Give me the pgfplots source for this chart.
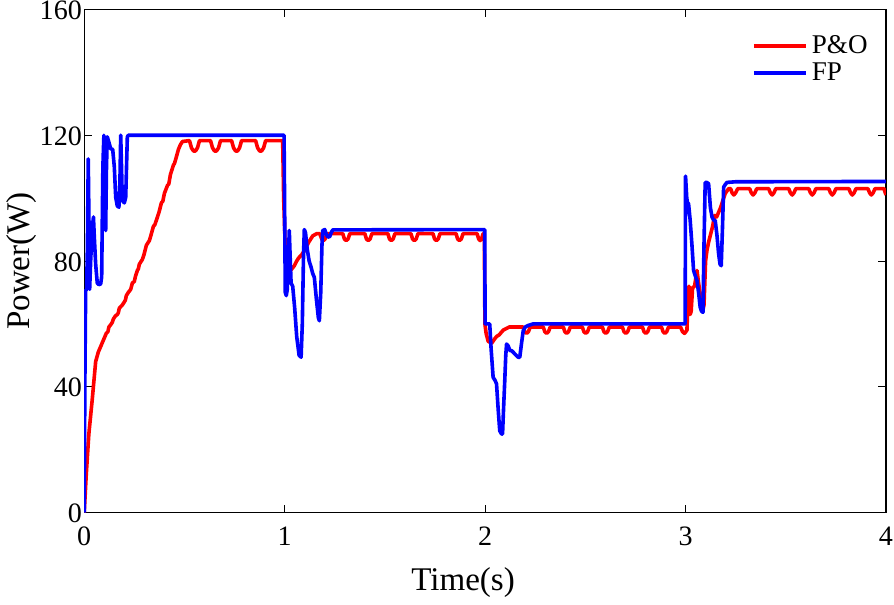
\documentclass[border=0pt]{standalone}
\usepackage{fontspec}
\setmainfont{Liberation Serif}
\usepackage{pgfplots}
\pgfplotsset{compat=1.18}

\begin{document}
\begin{tikzpicture}
\begin{axis}[
  scale only axis,
  width=400pt, height=251pt,
  xmin=0, xmax=4, ymin=0, ymax=160,
  xtick={0,1,2,3,4}, ytick={0,40,80,120,160},
  xticklabels={0,1,2,3,4}, yticklabels={0,40,80,120,160},
  tick align=inside, major tick length=4pt,
  tick style={black, line width=0.5pt},
  axis line style={line width=0.6pt},
  ticklabel style={font=\rmfamily\fontsize{14}{16}\selectfont, inner sep=0.5pt},
  xticklabel style={yshift=-6.5pt},
  yticklabel style={yshift=-0.5pt, xshift=-0.5pt},
  xlabel={Time(s)}, ylabel={Power(W)},
  label style={font=\fontsize{16.5}{19}\selectfont},
  xlabel style={yshift=-7pt, xshift=-11pt},
  ylabel style={yshift=-2.5pt},
  legend style={draw=none, fill=none, at={(0.99,0.965)}, anchor=north east,
    font=\fontsize{13.5}{15}\selectfont, row sep=-1pt},
  legend cell align=left,
  legend image code/.code={\draw[#1] (0pt,0pt) -- (26pt,0pt);},
  clip=true,
]
% P&O
\addplot[red, line width=1.8pt, line join=round] coordinates {
(0,0) (0.01,12) (0.023,25) (0.04,36) (0.057,48) (0.07,51) (0.09,54)
(0.1,55.5) (0.11,57) (0.118,57.5) (0.123,59) (0.135,60) (0.14,60.5) (0.145,61.5) (0.155,62.5)
(0.165,63) (0.17,63.5) (0.175,65) (0.19,66) (0.2,67) (0.205,67.5) (0.21,69) (0.22,70) (0.232,71)
(0.24,73) (0.25,73.5) (0.255,75) (0.265,77) (0.27,77.5) (0.275,79) (0.285,80) (0.29,80.5) (0.298,82)
(0.31,85) (0.32,86) (0.325,86.5) (0.332,88) (0.345,91) (0.352,91.5) (0.36,93) (0.373,95.5)
(0.385,98.5) (0.392,99) (0.4,101.5) (0.415,104) (0.422,104.5) (0.43,107.5) (0.445,110.5)
(0.45,111) (0.457,112.5) (0.47,115.5) (0.48,117) (0.49,118) (0.525,118.3)
(0.535,116) (0.545,115) (0.555,115) (0.565,116) (0.575,118.3)
(0.63,118.3) (0.64,116) (0.65,115) (0.66,115) (0.67,116) (0.68,118.3)
(0.735,118.3) (0.745,116) (0.755,115) (0.765,115) (0.775,116) (0.785,118.3)
(0.855,118.3) (0.865,116) (0.875,115) (0.885,115) (0.895,116) (0.905,118.3)
(0.99,118.3) (0.995,100) (1.005,80) (1.015,76) (1.03,77) (1.048,78.5)
(1.06,80) (1.07,81) (1.085,82) (1.1,83.5) (1.12,86) (1.14,88) (1.16,88.7)
(1.175,88.7) (1.185,87) (1.193,86.5) (1.202,87) (1.21,88.7)
(1.29,88.7) (1.298,87) (1.307,86.5) (1.316,87) (1.325,88.7)
(1.4,88.7) (1.408,87) (1.417,86.5) (1.426,87) (1.435,88.7)
(1.515,88.7) (1.523,87) (1.532,86.5) (1.541,87) (1.55,88.7)
(1.63,88.7) (1.638,87) (1.647,86.5) (1.656,87) (1.665,88.7)
(1.74,88.7) (1.748,87) (1.757,86.5) (1.766,87) (1.775,88.7)
(1.855,88.7) (1.863,87) (1.872,86.5) (1.881,87) (1.89,88.7)
(1.96,88.7) (1.968,87) (1.975,86.5) (1.982,87) (1.99,88.7) (1.996,88.7)
(1.999,60) (2.005,57) (2.015,54.5) (2.032,53.8) (2.045,55) (2.057,56)
(2.07,56.5) (2.09,58) (2.105,58.5) (2.12,59) (2.19,59)
(2.198,57.5) (2.207,57) (2.216,57.5) (2.225,59)
(2.29,59) (2.298,57.5) (2.307,57) (2.316,57.5) (2.325,59)
(2.39,59) (2.398,57.5) (2.407,57) (2.416,57.5) (2.425,59)
(2.485,59) (2.493,57.5) (2.502,57) (2.511,57.5) (2.52,59)
(2.585,59) (2.593,57.5) (2.602,57) (2.611,57.5) (2.62,59)
(2.685,59) (2.693,57.5) (2.702,57) (2.711,57.5) (2.72,59)
(2.785,59) (2.793,57.5) (2.802,57) (2.811,57.5) (2.82,59)
(2.88,59) (2.888,57.5) (2.897,57) (2.906,57.5) (2.915,59)
(2.975,59) (2.985,57.5) (2.995,57) (3.007,58)
(3.012,68) (3.017,72) (3.023,63) (3.028,64) (3.035,71.5) (3.045,72)
(3.057,77) (3.065,73) (3.073,69.5) (3.085,64) (3.092,66) (3.1,80)
(3.107,83.5) (3.115,86) (3.123,88) (3.135,91) (3.145,94.5) (3.155,94)
(3.165,95.5) (3.175,97) (3.185,99) (3.198,101.5) (3.215,103)
(3.225,103) (3.232,101.7) (3.241,101) (3.25,101.7) (3.26,103)
(3.32,103) (3.328,101.7) (3.337,101) (3.346,101.7) (3.355,103)
(3.415,103) (3.423,101.7) (3.432,101) (3.441,101.7) (3.45,103)
(3.515,103) (3.523,101.7) (3.532,101) (3.541,101.7) (3.55,103)
(3.615,103) (3.623,101.7) (3.632,101) (3.641,101.7) (3.65,103)
(3.715,103) (3.723,101.7) (3.732,101) (3.741,101.7) (3.75,103)
(3.815,103) (3.823,101.7) (3.832,101) (3.841,101.7) (3.85,103)
(3.91,103) (3.918,101.7) (3.927,101) (3.936,101.7) (3.945,103)
(3.99,103) (4.0,101)
};
\addlegendentry{P\&O}
% FP
\addplot[blue, line width=1.8pt, line join=round] coordinates {
(0,0) (0.003,40) (0.007,70.6) (0.012,71) (0.016,85) (0.02,112.5)
(0.024,90) (0.027,71) (0.032,80) (0.04,90.5) (0.046,94) (0.05,88)
(0.057,79) (0.065,73) (0.073,72.5) (0.082,72.7) (0.087,75) (0.093,110)
(0.098,120) (0.102,100) (0.107,89.7) (0.111,110) (0.115,119.5)
(0.122,118) (0.132,115.7) (0.142,115.5) (0.15,110) (0.157,100.3)
(0.165,97.5) (0.173,97.1) (0.178,105) (0.182,120) (0.186,110)
(0.19,99.2) (0.2,98.5) (0.207,100.3) (0.211,110) (0.215,119.5)
(0.22,120) (0.997,120) (1.0,95) (1.003,70) (1.008,69) (1.013,71)
(1.018,80) (1.023,89.7) (1.028,80) (1.032,73) (1.04,72) (1.05,65)
(1.06,56) (1.072,50) (1.082,49.4) (1.088,60) (1.094,82) (1.098,90)
(1.104,89) (1.112,84) (1.122,80) (1.132,78) (1.14,76) (1.148,74.8)
(1.158,68) (1.168,62) (1.173,61) (1.18,70) (1.186,85) (1.19,89.7)
(1.2,90) (1.208,88.5) (1.215,87.6) (1.225,87.8) (1.232,89) (1.24,89.9)
(1.998,90) (2.0,60) (2.023,60) (2.03,52) (2.04,43) (2.05,42)
(2.057,40.9) (2.065,33) (2.073,26) (2.082,25) (2.087,25) (2.092,33)
(2.098,41.9) (2.103,50) (2.107,53.6) (2.115,53) (2.124,51.5)
(2.132,51.5) (2.14,51) (2.155,50) (2.165,49.4) (2.173,49.4) (2.18,53)
(2.19,57.8) (2.2,59) (2.215,59.5) (2.24,60) (2.998,60) (3.0,107)
(3.006,100) (3.01,98.5) (3.015,98.2) (3.023,93) (3.032,85) (3.04,77)
(3.05,75) (3.057,73.8) (3.065,70) (3.073,65.3) (3.08,64) (3.087,63.7)
(3.092,85) (3.098,105) (3.105,105) (3.115,104.6) (3.124,97) (3.132,94)
(3.14,93) (3.148,92.9) (3.157,88) (3.165,82.3) (3.172,79) (3.178,78.5)
(3.184,90) (3.19,103.5) (3.2,104.5) (3.207,105) (3.25,105.2) (4.0,105.3)
};
\addlegendentry{FP}
\end{axis}
\end{tikzpicture}
\end{document}
